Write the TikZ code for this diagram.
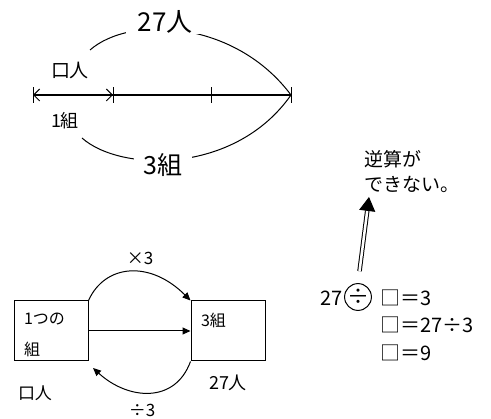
\documentclass[tikz,border=0pt]{standalone}
\usepackage{fontspec}
\setmainfont{Noto Sans CJK JP}
\usetikzlibrary{arrows.meta,positioning}

\tikzset{
  lbl/.style={fill=white, inner ysep=1pt},
  box/.style={draw, minimum width=74pt, minimum height=60pt, inner sep=0pt},
  tip/.style={-{Triangle[length=8pt,width=7pt]}},
  barb/.tip={Straight Barb[length=6pt,width=12pt]}
}

\begin{document}
\begin{tikzpicture}[x=1pt, y=-1pt, line width=1pt]
        \useasboundingbox (0,0) rectangle (491,419);

        % 数直線
        \coordinate (s) at (33,95);
        \coordinate (t1) at (113,95);
        \coordinate (t2) at (211,95);
        \coordinate (e) at (291,95);
        \draw[line width=1.2pt] (s) -- (e);
        \foreach \p in {s,t1,t2,e}
            \draw ([yshift=-8pt]\p) -- ([yshift=8pt]\p);
        \draw[barb-barb] (s) -- (t1);

        % 全体の弧
        \coordinate (cl) at (90,50);
        \coordinate (cb) at (82,138);
        \draw (cl) .. controls (130,15) and (235,20) .. (e);
        \draw (cb) .. controls (120,172) and (235,175) .. (e);

        % ラベル
        \node[lbl, inner xsep=12pt, font=\fontsize{26}{26}\selectfont] (all) at (165,22) {27人};
        \node[lbl, inner xsep=10pt, font=\fontsize{25}{25}\selectfont] (grp) at (163,165) {3組};
        \node[font=\fontsize{19}{19}\selectfont] (per) at (70,70) {口人};
        \node[font=\fontsize{18}{18}\selectfont] (one1) at (65,121) {1組};

        % 関係図
        \node[box] (one) at (51,331) {};
        \node[box] (three) at (228,331) {};
        \node[anchor=north west, align=left, inner sep=0pt,
              font=\fontsize{16}{31}\selectfont] (onet) at ([shift={(10,12)}]one.north west) {1つの\\組};
        \node[anchor=north west, inner sep=0pt,
              font=\fontsize{16}{16}\selectfont] (threet) at ([shift={(10,12)}]three.north west) {3組};
        \coordinate (bk) at (93,368);
        \draw[tip] (one.east) -- (three.west);
        \draw[tip] (one.north east) .. controls (105,264) and (150,260) .. (three.north west);
        \draw[tip] (three.south west) .. controls (175,404) and (128,400) .. (bk);
        \node[font=\fontsize{17}{17}\selectfont] (mul) at (140,258) {×3};
        \node[font=\fontsize{17}{17}\selectfont] (dv3) at (142,410) {÷3};
        \node[font=\fontsize{18}{18}\selectfont] (tot) at (228,383) {27人};
        \node[font=\fontsize{17}{17}\selectfont] (unk) at (35,393) {口人};

        % 式
        \node[anchor=west, align=left, font=\fontsize{19}{25}\selectfont] (note) at (361,172) {逆算が\\できない。};
        \node[anchor=east, inner sep=1pt, font=\fontsize{20}{20}\selectfont] (n27) at (344,298) {27};
        \node[circle, draw, minimum size=24pt, inner sep=0pt, font=\fontsize{22}{22}\selectfont] (dv) at (358,297) {÷};
        \node[anchor=west, inner sep=1pt, font=\fontsize{20}{20}\selectfont] (eq1) at (379,298) {□＝3};
        \node[anchor=west, inner sep=1pt, font=\fontsize{20}{20}\selectfont] (eq2) at (379,325) {□＝27÷3};
        \node[anchor=west, inner sep=1pt, font=\fontsize{20}{20}\selectfont] (eq3) at (379,353) {□＝9};
        \draw[double, double distance=2.5pt, shorten <=12pt,
              -{Triangle[length=14pt,width=16pt]}] (dv.north) -- ([xshift=8pt]note.south west);
    \end{tikzpicture}
\end{document}
